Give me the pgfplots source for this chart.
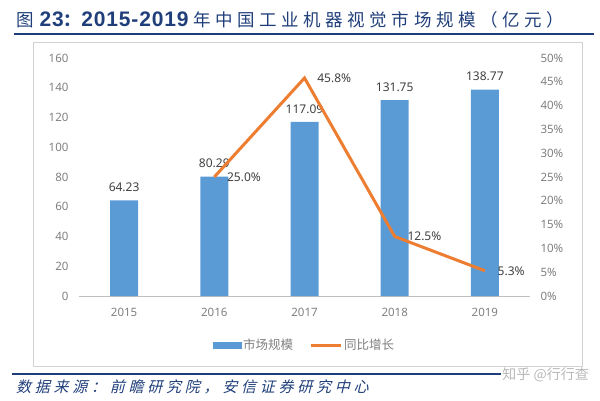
\documentclass[border=0pt]{standalone}
\usepackage{fontspec}
\usepackage{pgfplots}
\pgfplotsset{compat=1.18}
\setmainfont{Noto Sans}
\newfontfamily\cjk{Noto Sans CJK SC}
\newfontfamily\cjkt{Noto Sans CJK SC}[LetterSpace=26]
\newfontfamily\cjks{Noto Sans CJK SC}[FakeSlant=0.25,LetterSpace=25]
\newfontfamily\arialt{Liberation Sans}[LetterSpace=4]
\definecolor{barblue}{HTML}{5B9BD5}
\definecolor{lineor}{HTML}{ED7D31}
\definecolor{navy}{HTML}{203F7A}
\definecolor{tickc}{HTML}{7F7F7F}
\definecolor{labc}{HTML}{404040}
\begin{document}
\begin{tikzpicture}[x=1pt,y=1pt]
\path (0,0) rectangle (600,400);
\draw[gray!35, line width=0.8pt] (33,34) rectangle (582,358);
\draw[navy, line width=2pt] (14,366) -- (594,366);
\node[anchor=west, text=navy, inner sep=0pt] at (16,380) {\fontsize{17.5}{17.5}\selectfont{\cjkt 图}\hspace{6pt}{\arialt\bfseries\fontsize{21}{21}\selectfont 23}{\cjk\bfseries ：}{\arialt\bfseries\fontsize{21}{21}\selectfont 2015-2019}\hspace{5pt}{\cjkt 年中国工业机器视觉市场规模（亿元）}};
\draw[navy, line width=1.2pt] (12,26) -- (590,26);
\node[anchor=west, text=navy, inner sep=0pt] at (16,13) {\cjks\fontsize{15}{15}\selectfont 数据来源：前瞻研究院，安信证券研究中心};
\node[anchor=east, text=gray!55, inner sep=1pt, fill=white] at (590,25) {\cjk\fontsize{14}{14}\selectfont 知乎 @行行查};

\begin{axis}[
  at={(79pt,104pt)}, anchor=south west, scale only axis,
  width=451pt, height=238pt,
  xmin=-0.5, xmax=4.5, ymin=0, ymax=160,
  xtick={0,1,2,3,4}, xticklabels={2015,2016,2017,2018,2019},
  ytick={0,20,...,160},
  axis x line*=bottom, axis y line*=left,
  x axis line style={draw=gray!50, line width=0.8pt, -},
  y axis line style={draw=none},
  major tick length=0pt,
  tick label style={font=\fontsize{11.5}{11.5}\selectfont, text=tickc},
  yticklabel style={xshift=-7pt},
  xticklabel style={yshift=-9pt},
  /pgf/number format/assume math mode=true,
  ybar, bar width=28pt,
  clip=false,
]
\addplot[fill=barblue, draw=none,
  nodes near coords, point meta=explicit symbolic,
  every node near coord/.append style={font=\fontsize{12}{12}\selectfont, text=labc, yshift=5pt}]
  coordinates {(0,64.23)[64.23] (1,80.29)[80.29] (2,117.09)[117.09] (3,131.75)[131.75] (4,138.77)[138.77]};
\end{axis}

\begin{axis}[
  at={(79pt,104pt)}, anchor=south west, scale only axis,
  width=451pt, height=238pt,
  xmin=-0.5, xmax=4.5, ymin=0, ymax=0.5,
  axis x line=none, axis y line*=right,
  y axis line style={draw=none},
  major tick length=0pt,
  ytick={0,0.05,0.1,0.15,0.2,0.25,0.3,0.35,0.4,0.45,0.5},
  yticklabels={0\%,5\%,10\%,15\%,20\%,25\%,30\%,35\%,40\%,45\%,50\%},
  yticklabel style={font=\fontsize{11.5}{11.5}\selectfont, text=tickc, xshift=7pt},
  clip=false,
  legend columns=2,
  legend style={at={(0.5,-0.206)}, anchor=center, draw=none, fill=none,
    font=\cjk\fontsize{12.5}{12.5}\selectfont, text=tickc,
    /tikz/every even column/.append style={column sep=14pt}},
]
\addlegendimage{legend image code/.code={\fill[barblue] (0pt,-3pt) rectangle (28pt,3pt);}}
\addlegendentry{市场规模}
\addplot[lineor, line width=3pt, mark=none,
  legend image code/.code={\draw[lineor, line width=3pt] (0pt,0pt) -- (30pt,0pt);},
  nodes near coords, point meta=explicit symbolic,
  every node near coord/.append style={font=\fontsize{12}{12}\selectfont, text=labc, anchor=west, xshift=8pt}]
  coordinates {(1,0.25)[25.0\%] (2,0.458)[45.8\%] (3,0.125)[12.5\%] (4,0.053)[5.3\%]};
\addlegendentry{同比增长}
\end{axis}
\end{tikzpicture}
\end{document}
